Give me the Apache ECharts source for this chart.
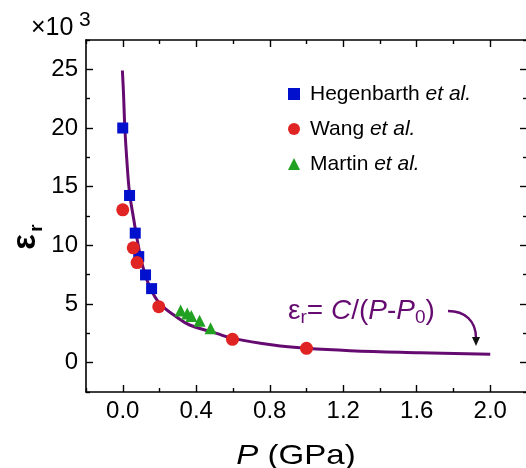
<!DOCTYPE html>
<html><head><meta charset="utf-8">
<script src="https://cdn.jsdelivr.net/npm/echarts@6/dist/echarts.min.js"></script>
<style>html,body{margin:0;padding:0;background:#fff}#c{width:526px;height:468px}</style>
</head><body><div id="c"></div>
<script>
// Data (P in GPa, epsilon_r in units of 10^3)
const hegP = [0.0, 0.037, 0.068, 0.087, 0.124, 0.157];
const hegE = [20.0, 14.25, 11.04, 9.04, 7.48, 6.31];
const wangP = [0.0, 0.057, 0.078, 0.196, 0.597, 1.0];
const wangE = [13.03, 9.79, 8.53, 4.77, 1.99, 1.22];
const martP = [0.315, 0.351, 0.373, 0.418, 0.478];
const martE = [4.45, 4.2, 3.98, 3.58, 2.93];
// Fitted curve
const fitP = [-0.002, 0.004, 0.011, 0.022, 0.037, 0.060, 0.082, 0.109, 0.146, 0.2, 0.291, 0.364, 0.51, 0.6, 0.818, 1.0, 1.237, 1.618, 2.0];
const fitE = [24.9, 23.0, 20.15, 17.3, 14.46, 12.2, 10.2, 8.2, 6.5, 5.06, 3.92, 3.21, 2.5, 2.07, 1.5, 1.22, 1.02, 0.85, 0.71];
const seriesNames = ['Hegenbarth', 'Wang', 'Martin'];
const xMajor = [0, 0.4, 0.8, 1.2, 1.6, 2.0];
const xMinor = [-0.2, 0.2, 0.6, 1.0, 1.4, 1.8, 2.2];
const yMajor = [0, 5, 10, 15, 20, 25];
const yMinor = [-2.5, 2.5, 7.5, 12.5, 17.5, 22.5, 27.5];

const zip = (a, b) => a.map((v, i) => [v, b[i]]);
const FONT = 'Liberation Sans, Arial, sans-serif';
const purple = '#650a70';
const axisLineStyle = {color: '#000', width: 1.6};

function xAx(pos, ticks, len, showLine, labels) {
  return {
    type: 'value', min: -0.2, max: 2.2, interval: 0.2, position: pos,
    axisLine: {show: showLine, onZero: false, lineStyle: axisLineStyle},
    axisTick: {show: true, inside: true, length: len, customValues: ticks, lineStyle: {color: '#000', width: 1.4}},
    axisLabel: labels ? {show: true, customValues: xMajor, fontSize: 24, color: '#000', fontFamily: FONT, margin: 7,
      formatter: v => v.toFixed(1)} : {show: false},
    splitLine: {show: false}
  };
}
function yAx(pos, ticks, len, showLine, labels) {
  return {
    type: 'value', min: -2.5, max: 27.5, interval: 2.5, position: pos,
    axisLine: {show: showLine, onZero: false, lineStyle: axisLineStyle},
    axisTick: {show: true, inside: true, length: len, customValues: ticks, lineStyle: {color: '#000', width: 1.4}},
    axisLabel: labels ? {show: true, customValues: yMajor, fontSize: 24, color: '#000', fontFamily: FONT, margin: 8,
      formatter: v => String(Math.round(v))} : {show: false},
    splitLine: {show: false}
  };
}

const chart = echarts.init(document.getElementById('c'), null, {renderer: 'canvas'});
const legendFmt = n => '{n|' + n + '} {i|et al.}';
chart.setOption({
  animation: false,
  backgroundColor: '#fff',
  grid: {left: 86, right: -1, top: 40, bottom: 76, containLabel: false, outerBoundsMode: 'none'},
  xAxis: [
    xAx('bottom', xMinor, 4, true, true),
    xAx('bottom', xMajor, 7, false, false),
    xAx('top', xMinor, 4, true, false),
    xAx('top', xMajor, 7, false, false)
  ],
  yAxis: [
    yAx('left', yMinor, 4, true, true),
    yAx('left', yMajor, 7, false, false),
    yAx('right', yMinor, 4, true, false),
    yAx('right', yMajor, 7, false, false)
  ],
  legend: {
    data: seriesNames, orient: 'vertical', left: 283, top: 78, padding: 5,
    itemWidth: 12, itemHeight: 12, itemGap: 13,
    formatter: legendFmt,
    textStyle: {color: '#000', fontSize: 21, fontFamily: FONT, lineHeight: 22, padding: [0, 0, 0, 5],
      rich: {n: {fontSize: 21, fontFamily: FONT, color: '#000'}, i: {fontSize: 21, fontFamily: FONT, fontStyle: 'italic', color: '#000'}}}
  },
  series: [
    {type: 'line', name: 'fit', data: zip(fitP, fitE), smooth: 0.4, showSymbol: false, symbol: 'none',
      lineStyle: {color: purple, width: 3}, z: 1},
    {type: 'scatter', name: 'Hegenbarth', data: zip(hegP, hegE), symbol: 'rect', symbolSize: 11,
      itemStyle: {color: '#0010cc', opacity: 1}, z: 3},
    {type: 'scatter', name: 'Wang', data: zip(wangP, wangE), symbol: 'circle', symbolSize: 13,
      itemStyle: {color: '#e02424', opacity: 1}, z: 3},
    {type: 'scatter', name: 'Martin', data: zip(martP, martE), symbol: 'triangle', symbolSize: 12,
      itemStyle: {color: '#22a022', opacity: 1}, z: 2}
  ],
  graphic: [
    {type: 'text', left: 31, top: 16, style: {text: '×10', font: '25px ' + FONT, fill: '#000'}},
    {type: 'text', left: 79, top: 10, style: {text: '3', font: '21px ' + FONT, fill: '#000'}},
    {type: 'text', x: 26, y: 242, rotation: Math.PI / 2,
      style: {text: 'ε', font: 'bold 33px ' + FONT, fill: '#000', align: 'center', verticalAlign: 'middle'}},
    {type: 'text', x: 37, y: 228, rotation: Math.PI / 2,
      style: {text: 'r', font: 'bold 19px ' + FONT, fill: '#000', align: 'center', verticalAlign: 'middle'}},
    {type: 'text', x: 296, y: 456, scaleX: 1.18,
      style: {text: '{i|P} (GPa)', align: 'center', verticalAlign: 'middle', fill: '#000',
        rich: {i: {font: 'italic 28px ' + FONT, fill: '#000'}}, font: '28px ' + FONT}},
    {type: 'text', x: 288, y: 296,
      style: {text: 'ε{s|r}= {i|C}/({i|P}-{i|P}{s|0})', fill: purple, font: '28px ' + FONT, lineHeight: 31,
        rich: {i: {font: 'italic 28px ' + FONT, fill: purple, lineHeight: 31},
               s: {font: '19px ' + FONT, fill: purple, verticalAlign: 'bottom', lineHeight: 14}}}},
    {type: 'bezierCurve', shape: {x1: 448, y1: 311, cpx1: 465, cpy1: 311, cpx2: 476, cpy2: 321, x2: 476, y2: 338},
      style: {stroke: purple, lineWidth: 2.4, fill: null}},
    {type: 'polygon', shape: {points: [[472, 337], [480, 337], [476, 346]]}, style: {fill: '#111'}}
  ]
});
</script></body></html>
